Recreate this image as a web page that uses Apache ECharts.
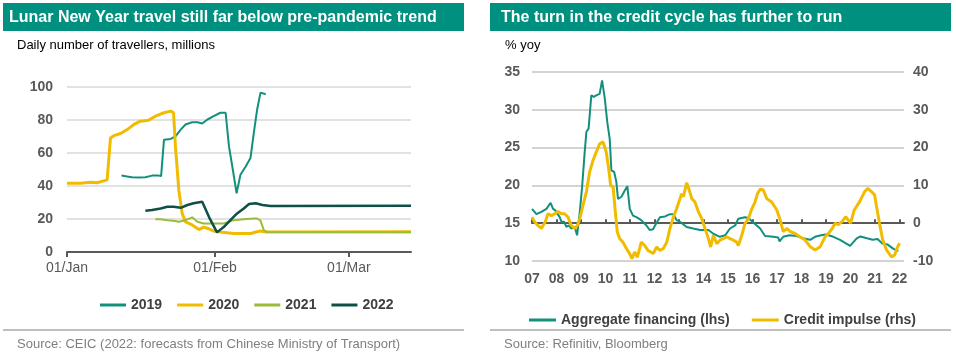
<!DOCTYPE html>
<html><head><meta charset="utf-8">
<script src="https://cdn.jsdelivr.net/npm/echarts@6/dist/echarts.min.js"></script>
<style>html,body{margin:0;padding:0;background:#fff}#c{width:956px;height:356px}</style>
</head><body><div id="c"></div><script>
// ---------- Left chart data (day index from 01/Jan) ----------
const leftTickDays = [0, 31, 59];
const leftTickLabels = ['01/Jan', '01/Feb', '01/Mar'];
const days2019 = [11.4, 12.6, 13.6, 15, 16.4, 17.8, 19.2, 19.7, 20.3, 21.7, 22.7, 23.8, 24.8, 26.2, 27.3, 28.3, 29.4, 30.7, 32.1, 33.2, 33.9, 34.6, 35.5, 36.3, 37.4, 38.4, 39.1, 39.8, 40.5, 41.6];
const vals2019 = [46.3, 45.7, 45.3, 45.1, 45.3, 46.3, 46.3, 46.0, 68.1, 68.5, 70.1, 74.2, 77.3, 78.6, 78.6, 77.9, 80.3, 82.3, 84.4, 84.4, 64.0, 51.8, 35.6, 46.8, 51.8, 56.9, 72.2, 86.4, 96.6, 95.6];
const days2020 = [0, 2.8, 4.9, 6.3, 8.4, 9.1, 9.8, 11.2, 12.6, 14, 15.4, 17.1, 18.5, 20.3, 21.7, 22.3, 22.7, 23.4, 24.1, 24.8, 26.2, 27.6, 28.6, 29.7, 30.7, 32.1, 33.5, 35, 38.5, 39.5, 40.5, 41.6, 72];
const vals2020 = [41.7, 41.7, 42.3, 42.0, 43.7, 69.1, 70.5, 71.8, 74.2, 77.3, 79.3, 79.9, 82.3, 84.4, 85.4, 84.4, 64.0, 37.6, 23.4, 18.3, 16.4, 13.6, 15.1, 14.1, 12.7, 12.1, 11.6, 11.2, 11.2, 12.1, 12.7, 12.1, 12.2];
const days2021 = [18.5, 19.6, 21, 22.3, 23.4, 24.8, 26.2, 27.3, 28.6, 30.7, 32.8, 34.9, 37, 39.1, 39.8, 40.5, 41.2, 41.9, 72];
const vals2021 = [19.8, 19.8, 19.3, 18.9, 18.3, 19.3, 21.0, 18.3, 17.3, 17.3, 17.3, 19.3, 19.8, 20.3, 20.3, 19.0, 13.2, 12.1, 11.9];
const days2022 = [16.4, 17.8, 19.6, 21, 22.3, 23.8, 25.2, 26.5, 28.3, 29.7, 31.4, 32.8, 34.2, 35.6, 37, 38.1, 39.5, 40.9, 42.6, 72];
const vals2022 = [25.0, 25.4, 26.4, 27.4, 27.4, 26.8, 28.5, 29.5, 30.5, 21.3, 11.9, 15.1, 19.3, 23.4, 26.4, 29.1, 29.5, 28.5, 27.9, 28.0];

// ---------- Right chart data ([year, value]) ----------
const rightYears = [2007,2008,2009,2010,2011,2012,2013,2014,2015,2016,2017,2018,2019,2020,2021,2022];
const aggregateFinancing = [[2007.00,16.9],[2007.08,17.0],[2007.18,16.2],[2007.38,16.5],[2007.59,16.9],[2007.76,17.7],[2007.86,16.9],[2007.95,16.7],[2008.03,16.9],[2008.13,15.8],[2008.20,15.2],[2008.31,15.2],[2008.40,14.5],[2008.50,14.7],[2008.60,14.3],[2008.74,14.5],[2008.84,13.4],[2008.95,16.5],[2009.04,19.6],[2009.15,24.4],[2009.22,27.1],[2009.31,27.5],[2009.42,31.9],[2009.52,31.7],[2009.62,31.9],[2009.76,32.1],[2009.86,33.9],[2009.97,31.5],[2010.07,28.4],[2010.17,26.2],[2010.24,22.0],[2010.35,21.8],[2010.44,20.5],[2010.51,18.2],[2010.65,18.5],[2010.78,19.3],[2010.89,19.9],[2010.99,16.9],[2011.12,16.0],[2011.26,15.8],[2011.46,15.4],[2011.67,14.7],[2011.80,14.1],[2011.94,14.2],[2012.02,14.7],[2012.22,15.8],[2012.43,15.9],[2012.63,16.2],[2012.77,16.2],[2012.90,15.4],[2013.04,15.2],[2013.31,14.5],[2013.58,14.3],[2013.86,14.1],[2014.20,14.1],[2014.40,13.6],[2014.67,13.2],[2014.88,13.4],[2015.08,14.3],[2015.29,14.7],[2015.42,15.6],[2015.69,15.8],[2015.83,15.7],[2016.03,15.1],[2016.31,14.3],[2016.51,13.3],[2016.85,13.2],[2017.05,13.1],[2017.10,12.6],[2017.25,13.2],[2017.50,13.4],[2017.80,13.3],[2018.06,13.0],[2018.35,12.8],[2018.55,13.2],[2018.80,13.4],[2019.00,13.5],[2019.30,13.2],[2019.57,12.8],[2019.98,12.0],[2020.25,13.0],[2020.40,13.25],[2020.67,13.0],[2020.90,12.8],[2021.10,12.9],[2021.30,12.3],[2021.50,12.2],[2021.75,11.6],[2021.95,11.3]];
const creditImpulse = [[2007.00,1.6],[2007.11,0.3],[2007.24,-0.6],[2007.38,-1.4],[2007.54,0.3],[2007.65,2.5],[2007.79,2.0],[2007.93,2.5],[2008.06,3.1],[2008.20,2.5],[2008.33,2.5],[2008.47,1.6],[2008.60,-0.6],[2008.74,-1.4],[2008.85,-0.6],[2008.95,1.2],[2009.08,4.7],[2009.22,8.3],[2009.35,13.5],[2009.49,16.6],[2009.62,18.8],[2009.76,21.0],[2009.90,21.5],[2010.03,18.8],[2010.13,14.4],[2010.21,10.0],[2010.31,9.6],[2010.40,3.0],[2010.48,-2.3],[2010.58,-4.1],[2010.71,-5.0],[2010.85,-6.7],[2010.99,-8.1],[2011.08,-9.4],[2011.19,-7.6],[2011.30,-9.0],[2011.46,-5.0],[2011.60,-5.9],[2011.73,-7.2],[2011.95,-8.0],[2012.09,-6.3],[2012.22,-7.2],[2012.36,-6.7],[2012.50,-5.0],[2012.63,-1.4],[2012.77,1.6],[2012.90,3.8],[2013.04,6.5],[2013.11,7.8],[2013.18,7.0],[2013.31,10.7],[2013.42,8.7],[2013.52,6.5],[2013.65,5.6],[2013.79,3.0],[2013.93,1.2],[2014.06,-1.4],[2014.20,-4.1],[2014.29,-6.3],[2014.40,-3.2],[2014.54,-5.4],[2014.67,-4.5],[2014.81,-4.1],[2014.95,-3.6],[2015.08,-4.1],[2015.22,-4.5],[2015.35,-5.0],[2015.42,-5.9],[2015.56,-3.2],[2015.69,-0.1],[2015.83,1.2],[2015.97,3.8],[2016.10,5.6],[2016.20,7.8],[2016.31,9.0],[2016.44,8.8],[2016.58,6.5],[2016.78,5.6],[2016.99,3.5],[2017.12,1.0],[2017.25,-2.2],[2017.41,-1.4],[2017.53,-2.2],[2017.73,-2.7],[2017.93,-3.6],[2018.14,-4.4],[2018.35,-6.2],[2018.55,-7.1],[2018.76,-6.2],[2018.96,-3.6],[2019.10,-2.7],[2019.25,-1.4],[2019.37,0],[2019.50,-0.4],[2019.65,0.4],[2019.80,1.7],[2020.00,0],[2020.15,3.5],[2020.37,5.7],[2020.57,8.3],[2020.70,9.2],[2020.86,8.3],[2020.98,7.5],[2021.06,4.4],[2021.18,0],[2021.31,-4.4],[2021.47,-7.1],[2021.67,-8.9],[2021.80,-8.4],[2021.92,-6.2],[2022.00,-5.3]];

// ---------- Styling ----------
const FONT = '"Liberation Sans", Arial, sans-serif';
const BAR = '#00907f';
const AXC = '#595959';
const zip = (a, b) => a.map((x, i) => [x, b[i]]);
const lbl = (extra) => Object.assign({fontFamily: FONT, fontSize: 14, color: AXC}, extra || {});

const chart = echarts.init(document.getElementById('c'), null, {renderer: 'canvas'});
chart.setOption({
  animation: false,
  backgroundColor: '#fff',
  graphic: [
    {type: 'rect', shape: {x: 3, y: 3, width: 461, height: 28}, style: {fill: BAR}},
    {type: 'text', x: 9, y: 18, style: {text: 'Lunar New Year travel still far below pre-pandemic trend', fill: '#fff', fontFamily: FONT, fontSize: 16, fontWeight: 'bold', verticalAlign: 'middle'}},
    {type: 'text', x: 17, y: 45, style: {text: 'Daily number of travellers, millions', fill: '#000', fontFamily: FONT, fontSize: 13, verticalAlign: 'middle'}},
    {type: 'line', shape: {x1: 3, y1: 330, x2: 464, y2: 330}, style: {stroke: '#bfbfbf', lineWidth: 2}},
    {type: 'text', x: 17, y: 344, style: {text: 'Source: CEIC (2022: forecasts from Chinese Ministry of Transport)', fill: '#7f7f7f', fontFamily: FONT, fontSize: 13, verticalAlign: 'middle'}},

    {type: 'rect', shape: {x: 490, y: 3, width: 461, height: 28}, style: {fill: BAR}},
    {type: 'text', x: 501, y: 18, style: {text: 'The turn in the credit cycle has further to run', fill: '#fff', fontFamily: FONT, fontSize: 16, fontWeight: 'bold', verticalAlign: 'middle'}},
    {type: 'text', x: 505, y: 45, style: {text: '% yoy', fill: '#000', fontFamily: FONT, fontSize: 13, verticalAlign: 'middle'}},
    {type: 'line', shape: {x1: 490, y1: 330, x2: 951, y2: 330}, style: {stroke: '#bfbfbf', lineWidth: 2}},
    {type: 'text', x: 504, y: 344, style: {text: 'Source: Refinitiv, Bloomberg', fill: '#7f7f7f', fontFamily: FONT, fontSize: 13, verticalAlign: 'middle'}}
  ],
  grid: [
    {left: 67, top: 87, width: 344, height: 165, containLabel: false},
    {left: 532, top: 72, width: 372, height: 189, containLabel: false}
  ],
  legend: [
    {data: ['2019', '2020', '2021', '2022'], left: 95, top: 293, icon: 'rect', itemWidth: 26, itemHeight: 3, itemGap: 15,
     textStyle: {fontFamily: FONT, fontSize: 14, fontWeight: 'bold', color: '#404040'}},
    {data: ['Aggregate financing (lhs)', 'Credit impulse (rhs)'], left: 524, top: 308, icon: 'rect', itemWidth: 27, itemHeight: 3, itemGap: 22,
     textStyle: {fontFamily: FONT, fontSize: 14, fontWeight: 'bold', color: '#404040'}}
  ],
  xAxis: [
    {gridIndex: 0, type: 'value', min: 0, max: 72,
     axisLine: {show: true, onZero: false, lineStyle: {color: AXC, width: 2}},
     axisTick: {show: true, customValues: leftTickDays, length: 5, lineStyle: {color: AXC, width: 2}},
     axisLabel: lbl({customValues: leftTickDays, margin: 9, formatter: v => leftTickLabels[leftTickDays.indexOf(v)] || ''}),
     splitLine: {show: false}},
    {gridIndex: 1, type: 'value', min: 2007, max: 2022.18,
     axisLine: {show: false, onZero: false}, axisTick: {show: false},
     axisLabel: lbl({customValues: rightYears, margin: 11, fontWeight: 'bold', formatter: v => String(Math.round(v)).slice(2)}),
     splitLine: {show: false}},
    {gridIndex: 1, type: 'value', min: 2007, max: 2022.18,
     axisLine: {show: true, onZero: true, lineStyle: {color: AXC, width: 2}},
     axisTick: {show: true, customValues: rightYears, length: 4, lineStyle: {color: AXC, width: 2}},
     axisLabel: {show: false}, splitLine: {show: false}}
  ],
  yAxis: [
    {gridIndex: 0, type: 'value', min: 0, max: 100, interval: 20,
     axisLine: {show: false}, axisTick: {show: false},
     axisLabel: lbl({fontWeight: 'bold', margin: 14}),
     splitLine: {lineStyle: {color: '#d9d9d9', width: 1.5}}},
    {gridIndex: 1, type: 'value', position: 'left', min: 10, max: 35, interval: 5,
     axisLine: {show: false}, axisTick: {show: false},
     axisLabel: lbl({fontWeight: 'bold', margin: 12}),
     splitLine: {lineStyle: {color: '#c4c4c4', width: 1.5}}},
    {gridIndex: 1, type: 'value', position: 'right', min: -10, max: 40, interval: 10,
     axisLine: {show: false}, axisTick: {show: false},
     axisLabel: lbl({fontWeight: 'bold', margin: 9}),
     splitLine: {show: false}}
  ],
  series: [
    {name: '2019', type: 'line', xAxisIndex: 0, yAxisIndex: 0, data: zip(days2019, vals2019), showSymbol: false,
     color: '#13907c', lineStyle: {width: 2}},
    {name: '2020', type: 'line', xAxisIndex: 0, yAxisIndex: 0, data: zip(days2020, vals2020), showSymbol: false,
     color: '#f1bc00', lineStyle: {width: 3}},
    {name: '2021', type: 'line', xAxisIndex: 0, yAxisIndex: 0, data: zip(days2021, vals2021), showSymbol: false,
     color: '#9abb3c', lineStyle: {width: 2}},
    {name: '2022', type: 'line', xAxisIndex: 0, yAxisIndex: 0, data: zip(days2022, vals2022), showSymbol: false,
     color: '#0e4f47', lineStyle: {width: 2.5}},
    {name: 'Aggregate financing (lhs)', type: 'line', xAxisIndex: 1, yAxisIndex: 1, data: aggregateFinancing, showSymbol: false,
     color: '#13907c', lineStyle: {width: 2}},
    {name: 'Credit impulse (rhs)', type: 'line', xAxisIndex: 1, yAxisIndex: 2, data: creditImpulse, showSymbol: false,
     color: '#f1bc00', lineStyle: {width: 3}}
  ]
});
</script></body></html>
